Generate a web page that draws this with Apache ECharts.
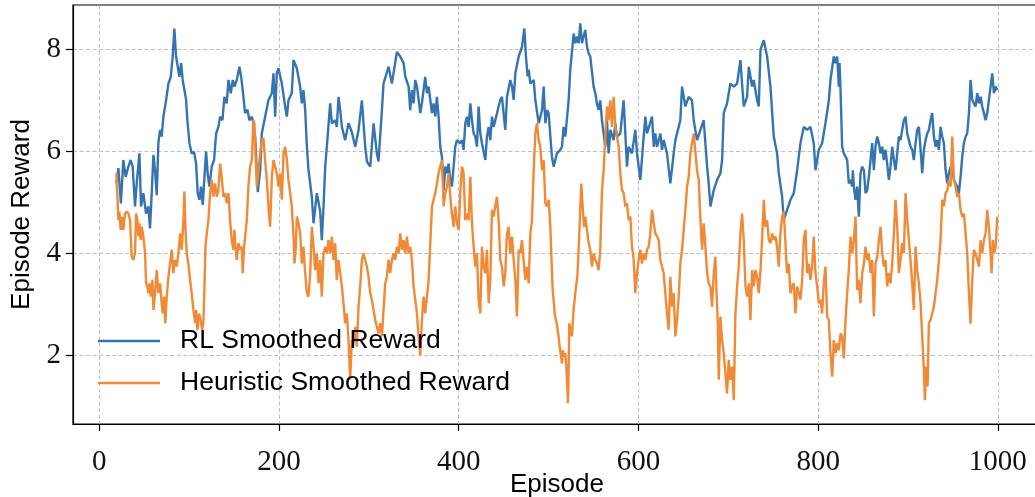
<!DOCTYPE html>
<html>
<head>
<meta charset="utf-8">
<script src="https://cdn.jsdelivr.net/npm/echarts@6/dist/echarts.min.js"></script>
<style>html,body{margin:0;padding:0;background:#fff;}#c{width:1035px;height:497px;}</style>
</head>
<body>
<div id="c"></div>
<script>
const xTicks = [0, 200, 400, 600, 800, 1000];
const yTicks = [2, 4, 6, 8];
const seriesNames = ['RL Smoothed Reward', 'Heuristic Smoothed Reward'];

const rlEpisodes = [19,21.2,24,26.7,29.3,32.3,34.9,37.1,39.7,41.6,44.6,46.4,49,52,54.6,56.4,58.3,60.2,62,63.9,65.7,67.6,69.4,71.3,74.3,76.9,79.5,81.7,83.5,85.4,87.3,89.1,91,92.8,94.7,96.5,98,100.3,102.8,105.4,107.7,109.5,111.4,113.2,115.1,117,118.8,120.7,122.5,125.1,127.7,130,132.5,134.4,137,139.2,141.8,143.7,146.3,148.5,150.4,153,155.9,157.8,159.6,162.2,164.8,167,169.7,171.5,
173.4,176.4,179,180.8,184.5,188.2,192,193.8,195.7,197.5,199.4,203.1,206.8,208.7,210.5,214.2,216.1,219.8,223.5,225.4,227.2,229.1,231,232.8,236.5,238.4,242.1,245.8,247.6,249.5,251.4,253.2,256.9,258.8,262.5,264.3,266.2,268.1,269.9,273.6,277.3,281,284.8,288.5,292.2,295.9,297.8,301.5,305.2,308.9,310.7,314.5,316.3,321.9,325.6,331.2,
334.9,338.6,340.5,344.2,346,347.9,349.7,351.6,353.5,357.2,359,362.7,364.6,366.5,370.2,372,373.9,375.7,377.6,379.4,381.3,383.2,385,386.9,388.7,390.6,392.4,394.3,396.1,398,401.7,403.6,405.4,407.3,409.1,411,412.9,414.7,416.6,418.4,420.3,422.1,424,425.8,429.6,431.4,433.3,435.1,437,438.8,442.5,444.4,446.3,448.1,451.8,453.7,457.4,459.3,461.1,463,466.7,470.4,473,474.8,476.7,477.8,479.7,483.4,485.2,489,492.7,494.5,496.4,498.2,
500,503.7,505.6,507.4,509.3,513,514.9,516.7,518.6,522.3,524.1,527.9,529.7,531.6,533.4,535.3,537.1,540.8,542.7,544.6,546.4,550.1,552,553.8,555.7,557.5,559.4,563.1,565,566.8,568.7,570.5,572.4,574.3,576.1,579.8,583.5,585.4,587.2,589.1,592.8,596.5,598.4,602.1,605.8,607.7,609.5,615.1,617,618.8,620.7,624.4,626.2,628.1,631.8,635.5,639.2,641.1,646.6,648.5,652.2,655.9,659.6,
661.5,665.2,669,672.6,676.4,678.2,680.1,683.8,687.5,691.2,693.1,694.9,698.6,702.3,706.1,709.8,713.5,715.3,717.2,720.9,722.8,726.5,728.3,732,733.9,735.8,739.5,743.2,746.9,750.6,754.3,756.2,759.9,761.7,765.4,769.2,772.9,776.6,780.3,784,787.7,791.4,795.1,797,800.7,804.4,808.1,811.9,813.7,817.4,819.3,
821.2,823,823.8,824.9,826.7,828.6,830.4,832.3,834.1,836,837.9,838.6,839.7,841.6,843.4,845.3,847.1,849,850.9,852.7,854.6,856.4,858.3,860.1,862,863.8,865.7,867.6,869.4,871.3,873.1,875,876.8,878.7,880.5,882.4,884.3,886.1,888,889.8,891.7,893.5,895.4,897.3,899.1,901,902.8,904.7,906.5,908.4,910.2,912.1,914,915.8,917.7,919.5,921.4,923.2,925.1,926.9,928.8,930.7,932.5,934.4,936.2,938.1,939.9,941.8,943.7,945.5,947.4,949.2,951.1,952.9,954.8,956.6,958.5,960.4,962.2,964.1,965.9,967.8,969.6,971.5,973.3,975.2,977.1,978.9,980.8,982.6,984.5,986.3,988.2,990,991.9,993.8,995.6,997.5,999.3];
const rlValues = [5.37,5.67,4.98,5.83,5.5,5.7,5.83,5.7,4.92,5.37,5.96,4.92,5.18,4.78,4.92,4.49,5.18,5.93,5.63,5.14,6.16,6.42,6.29,6.68,7.0,7.33,7.46,7.86,8.41,7.86,7.66,7.46,7.73,7.4,7.4,7.02,6.61,6.16,5.96,5.99,5.76,5.18,5.05,5.31,4.95,5.5,6.0,5.54,5.31,5.7,5.83,6.35,6.48,6.68,6.61,7.07,6.94,7.4,7.14,7.4,7.27,7.4,7.66,7.46,7.2,6.75,6.82,6.61,6.68,6.55,
6.29,5.2,5.63,6.35,6.68,7.0,7.14,7.53,6.68,7.53,7.63,7.33,6.88,6.68,7.0,7.14,7.79,7.63,7.27,6.94,7.2,6.81,6.09,5.63,5.11,4.59,5.18,4.82,4.26,4.91,5.7,6.09,6.94,6.55,6.61,6.48,7.07,6.81,6.48,6.22,6.55,6.38,6.09,6.42,7.0,6.09,5.8,5.7,6.55,5.96,5.8,6.81,7.33,7.66,7.33,7.95,
7.86,7.73,7.47,7.27,6.81,7.2,6.94,7.4,7.27,6.75,6.94,7.46,7.14,7.27,6.75,6.94,6.68,7.07,6.68,6.09,5.89,5.24,5.7,5.57,5.76,5.44,5.31,5.7,6.09,6.22,6.16,6.22,6.03,6.55,6.68,6.48,6.94,6.61,6.35,6.29,6.09,6.88,6.35,6.16,5.83,6.29,6.48,6.22,6.68,6.48,6.74,6.88,7.01,7.07,6.42,7.07,7.4,7.27,7.01,7.53,7.86,8.05,8.41,7.86,7.47,7.6,7.33,7.4,7.01,6.55,6.81,7.27,6.55,6.81,
6.75,5.9,5.7,5.83,5.96,6.03,6.09,6.48,6.29,7.0,7.6,8.31,8.12,8.25,8.12,8.51,8.12,8.38,8.05,7.92,7.86,7.27,7.14,6.94,6.81,7.0,6.61,6.09,6.61,5.96,6.42,6.42,6.22,6.55,6.29,6.35,7.0,6.35,5.7,6.09,5.96,6.42,5.96,5.44,6.29,6.68,6.35,6.68,6.09,6.35,6.09,6.35,6.03,6.22,5.96,5.37,5.96,6.22,6.61,7.27,6.88,7.07,7.0,
6.61,6.22,6.42,6.61,5.7,5.37,4.92,5.24,5.44,5.57,5.83,6.75,6.94,7.33,7.27,7.33,7.79,7.33,6.88,7.07,7.66,7.27,7.4,7.01,6.88,7.99,8.18,7.86,7.27,6.29,5.96,5.57,5.11,4.65,4.85,5.05,5.18,5.63,6.16,6.48,6.42,6.48,6.16,5.63,6.03,6.16,6.55,7.0,7.4,7.86,7.73,
7.86,7.27,7.73,7.2,6.09,5.96,5.9,5.83,5.37,5.44,5.31,5.63,5.31,5.05,5.31,4.72,5.57,5.7,5.63,5.18,5.24,5.5,5.83,6.16,5.63,6.09,6.29,6.16,5.96,6.09,5.83,6.03,5.76,5.44,5.7,6.09,5.83,5.63,5.96,6.29,6.22,6.42,6.61,6.68,6.35,6.22,6.09,6.03,5.83,6.16,6.42,6.48,6.03,5.57,6.03,6.22,6.35,6.42,6.61,6.75,6.29,6.09,6.22,6.03,6.48,6.29,6.16,5.63,5.37,5.57,5.7,5.63,5.44,5.37,5.31,5.18,5.5,5.9,6.16,6.29,6.35,6.75,7.4,7.01,6.94,6.88,7.14,6.94,7.07,6.88,6.75,6.61,6.75,7.01,7.27,7.53,7.14,7.27,7.2];

const heurEpisodes = [19,20.1,21.2,22.3,23.8,25.3,26.7,28.6,30.5,32.3,34.2,36,37.9,39.7,40.9,42.3,43.5,44.6,46.1,47.2,49,50.9,52,53.5,54.6,55.7,57.2,59.1,60.2,62,63.9,65.7,67.6,69.4,70.5,72,73.5,75,76.9,78.7,80.6,82.4,84.3,86.1,88,89.9,91.7,93.6,94.7,95.8,97.3,99.1,101,102.8,104.7,106.6,107.7,109.2,111,112.9,114.3,115.8,117,118.1,119.6,121.4,123.3,125.1,127,128.8,130.7,132.5,134.4,136.2,138.1,140,141.8,143.7,145.5,147.4,149.2,150.4,151.5,153,154.8,156.7,158.5,159.6,161.1,162.6,164.1,165.9,167.8,169.7,171.5,172.6,173.7,
175.3,179,180.8,182.7,184.5,186.4,188.2,190.1,192,193.8,195.7,197.5,199.4,201.2,203.1,205,206.8,208.7,210.5,212.4,214.2,216.1,217.2,218.7,219.8,221.7,223.5,225.4,227.2,229.1,231,232.8,234.7,236.5,238.4,240.2,242.1,244,245.8,247.6,249.5,251.4,253.2,255.1,256.9,258.8,260.6,262.5,264.3,266.2,268.1,269.9,271.8,273.6,275.5,277.3,279.2,281,282.9,284.8,286.6,288.5,290.3,292.2,294,295.9,297.8,299.6,301.5,303.3,305.2,307,308.9,310.7,312.6,314.5,316.3,318.2,320,321.9,323.7,325.6,327.4,329.3,331.2,333,
334.9,336.8,338.6,340.5,342.3,344.2,346,347.9,349.7,351.6,353.5,355.3,357.2,359,360.9,362.7,364.6,366.5,368.3,370.2,372,373.9,375.7,377.6,379.4,381.3,383.2,385,386.9,388.7,390.6,392.4,394.3,396.1,398,399.9,401.7,403.6,405.4,407.3,409.1,411,412.9,414.7,416.6,418.4,420.3,422.1,424,425.8,427.7,429.6,431.4,433.3,435.1,437,438.8,440.7,442.5,444.4,446.3,448.1,450,451.8,453.7,455.5,457.4,459.3,461.1,463,464.8,466.7,468.5,470.4,472.2,474.1,476,477.8,479.7,481.5,483.4,485.2,487.1,488.9,490.8,492.7,494.5,496.4,498.2,500.1,
501.9,503,504.5,505.6,506.7,508.2,509.7,511.1,512.3,513.4,514.9,516,517.1,518.6,519.7,520.8,521.5,522.3,523,524.5,526,527.5,529,530.5,532,533.4,534.9,536.4,537.9,539.4,540.8,542.7,544.6,546.4,548.3,550.1,552,553.8,555.7,557.5,559.4,561.3,563.1,565,566.8,568.7,570.5,572.4,574.3,576.1,578,579.8,581.7,583.5,585.4,587.2,589.1,591,592.8,594.7,596.5,598.4,600.2,602.1,603.9,605.8,607.7,609.5,611.4,613.2,615.1,617,618.8,620.7,622.5,624.4,626.2,628.1,629.9,631.8,633.6,635.5,637.4,639.2,641.1,642.9,644.8,646.6,648.5,650.4,652.2,654.1,655.9,657.8,659.6,661.5,
665.2,667.1,669,670.8,672.6,674.5,676.4,678.2,680.1,681.9,683.8,685.6,686.8,688.2,689.4,691.2,693.1,694.9,696.8,698.6,700.5,702.3,704.2,706.1,707.9,709.8,711.6,713.5,715.3,717.2,719.1,720.9,722.8,724.6,726.5,728.3,730.2,732,733.9,735.8,737.6,739.5,741.3,743.2,745.1,746.9,748.8,750.6,752.5,754.3,756.2,758,759.9,761.7,763.6,765.4,767.3,769.2,771,772.9,774.7,776.6,778.5,780.3,782.2,784,785.9,787.7,789.6,791.4,793.3,795.1,797,798.9,800.7,802.6,804.4,806.3,808.1,810,811.8,813.7,815.6,817.4,819.3,
821.2,823,824.9,826.7,828.6,830.4,832.3,834.1,836,837.9,839.7,841.6,843.4,845.3,847.1,849,850.9,852.7,854.6,856.4,858.3,860.1,862,863.8,865.7,867.6,869.4,871.3,873.1,875,876.8,878.7,880.5,882.4,884.3,886.1,888,889.8,891.7,893.5,895.4,897.3,899.1,901,902.8,904.7,906.5,908.4,910.2,912.1,914,915.8,917.7,918.8,920.3,921.8,923.2,925.1,926.9,928.8,930.7,932.5,934.4,936.2,938.1,939.9,941.8,943.7,945.5,947.4,949.2,951.1,952.9,954.8,956.6,958.5,960.4,962.2,964.1,965.9,967.8,969.6,971.5,973.3,975.2,977.1,978.9,980.8,982.6,984.5,986.3,988.2,990,991.9,993,994.5,996,997.5,999.3];
const heurValues = [5.57,5.11,4.65,4.82,4.46,4.72,4.46,4.78,4.82,4.78,4.65,3.93,3.87,4.0,4.78,4.65,4.33,4.59,4.26,4.52,4.33,4.0,3.41,3.35,3.22,3.41,3.15,3.48,2.89,3.22,3.67,3.22,3.41,3.02,2.82,3.15,2.63,3.15,3.54,3.8,4.07,3.61,3.87,3.74,4.0,4.39,4.07,4.65,5.21,4.52,4.0,3.8,3.48,3.22,2.89,2.63,2.89,2.5,2.82,2.69,2.5,2.63,3.35,4.13,4.39,4.65,5.18,5.44,5.11,5.37,5.11,5.24,5.76,5.5,5.11,5.18,4.98,5.18,4.65,4.26,4.07,4.46,4.13,3.87,4.2,4.07,4.13,3.61,4.13,4.39,4.65,5.31,5.7,5.83,6.61,6.55,5.96,
5.31,5.96,6.22,6.26,5.83,5.44,4.92,4.52,5.5,5.83,5.7,5.57,5.31,5.57,5.05,5.96,6.09,5.83,5.44,5.18,4.92,4.33,3.8,4.13,4.72,4.59,4.39,3.8,4.13,3.61,3.22,3.15,3.61,4.52,4.13,3.67,4.0,3.41,3.87,3.15,4.0,4.13,4.0,4.26,4.0,4.33,3.87,4.2,3.48,3.87,3.61,3.35,3.02,2.63,2.82,2.3,1.52,2.3,2.24,2.56,2.17,2.95,3.35,3.87,4.0,3.87,3.74,3.54,3.22,3.09,2.89,2.69,2.56,2.43,2.63,2.37,2.89,3.41,3.54,3.87,3.61,3.87,4.0,3.87,4.13,4.0,
4.39,4.07,4.26,4.0,4.33,4.0,4.13,3.87,3.35,3.09,2.82,2.37,2.0,2.69,3.15,2.82,3.15,3.48,4.2,4.92,5.05,5.18,5.37,5.57,5.7,5.83,4.92,5.18,5.31,5.57,5.11,4.78,4.52,4.92,4.59,4.46,5.18,5.7,5.57,4.65,4.78,4.65,5.5,4.59,4.13,3.74,4.0,3.09,2.82,4.13,3.74,3.61,4.07,3.02,3.48,4.85,4.72,4.92,5.11,4.65,3.87,3.74,3.35,3.61,4.39,4.52,4.0,4.33,3.87,3.48,2.76,4.07,4.0,4.26,3.87,3.48,3.74,3.41,4.39,4.65,5.63,6.35,6.55,6.22,6.09,5.63,5.83,4.98,4.92,5.05,
4.52,4.0,3.28,3.09,2.82,2.69,2.56,2.37,2.17,2.04,1.84,2.1,1.97,2.04,1.78,1.39,1.06,1.71,2.63,2.5,2.37,2.82,3.09,3.35,3.54,4.07,4.72,5.37,4.92,4.52,4.72,4.46,4.2,4.07,3.74,4.0,3.87,3.8,3.67,4.07,5.24,5.63,6.29,6.88,6.61,7.0,6.48,7.07,6.48,6.29,6.09,5.57,5.24,5.18,4.92,4.98,4.65,4.72,4.13,3.87,3.22,3.61,3.87,4.07,3.8,4.0,3.87,4.07,4.13,4.39,4.85,4.59,4.39,4.33,4.26,3.87,3.74,3.61,3.22,2.82,2.5,3.54,2.95,3.22,2.37,2.69,3.15,3.8,4.07,4.46,4.85,5.31,5.5,5.96,6.16,6.35,
5.63,5.44,4.65,4.07,4.59,4.13,3.61,3.41,3.35,2.95,3.61,3.93,3.28,2.69,1.52,2.76,2.3,2.04,1.65,1.25,1.91,1.52,1.78,1.12,2.82,3.35,3.74,4.39,4.78,4.26,3.35,3.15,3.41,2.69,3.67,3.35,3.67,3.54,3.22,3.67,4.26,5.05,4.52,4.65,4.26,4.2,4.39,4.26,4.33,4.13,3.74,4.39,4.72,4.82,4.2,3.61,3.8,3.22,3.35,3.41,2.82,3.35,3.22,3.09,3.48,4.26,4.46,3.61,3.8,3.48,3.74,4.33,3.61,3.35,3.02,3.09,2.82,3.41,3.74,2.76,2.69,2.04,1.58,2.3,2.04,
2.24,2.1,2.43,2.37,1.94,2.69,3.22,3.67,4.33,4.0,4.26,4.72,3.28,3.48,3.02,3.61,3.8,4.13,3.87,4.0,3.61,3.87,2.76,3.8,3.93,4.26,4.52,4.0,3.74,3.87,3.35,3.61,3.41,3.8,4.39,5.05,4.52,3.61,3.87,4.2,4.0,5.18,4.65,4.26,3.87,3.41,2.89,4.13,3.67,3.41,3.02,2.37,1.71,1.12,1.78,1.39,2.63,2.69,2.82,2.95,3.22,3.48,3.87,4.26,5.05,4.92,5.18,5.24,5.44,5.31,6.29,5.44,5.31,5.11,5.18,4.85,4.72,4.78,4.39,4.0,3.22,2.62,3.48,4.07,4.0,3.87,3.74,4.26,4.0,4.26,4.39,4.85,4.52,4.0,3.61,4.26,4.0,4.13,4.72];

function pairs(xs, ys) { return xs.map((x, i) => [x, ys[i]]); }

const chart = echarts.init(document.getElementById('c'), null, { renderer: 'canvas' });
const sans = '"Liberation Sans", Arial, sans-serif';
const serif = '"Liberation Serif", "DejaVu Serif", serif';
chart.setOption({
  animation: false,
  backgroundColor: '#fff',
  grid: { left: 73, top: 5, right: -6, bottom: 73, containLabel: false, outerBoundsMode: 'none',
          show: true, borderColor: '#000', borderWidth: 1.2, backgroundColor: 'transparent' },
  legend: {
    orient: 'vertical', left: 98, top: 326, padding: 0, itemGap: 12,
    icon: 'rect', itemWidth: 62, itemHeight: 2.4,
    textStyle: { fontFamily: sans, fontSize: 26.5, color: '#000', lineHeight: 30, padding: [0, 0, 0, 15] },
    data: seriesNames
  },
  xAxis: {
    type: 'value', min: -29.3, max: 1048,
    name: 'Episode', nameLocation: 'middle', nameGap: 47, nameMoveOverlap: false,
    nameTextStyle: { fontFamily: sans, fontSize: 26, color: '#000', lineHeight: 28 },
    axisLine: { show: true, onZero: false, lineStyle: { color: '#000', width: 1.2 } },
    axisTick: { show: true, length: 7, customValues: xTicks, lineStyle: { color: '#000', width: 1.2 } },
    axisLabel: { customValues: xTicks, margin: 24, fontFamily: serif, fontSize: 29, color: '#111',
                 formatter: v => String(v) },
    splitLine: { show: true, lineStyle: { color: '#b0b0b0', width: 0.8, type: [4, 2.5] } }
  },
  yAxis: {
    type: 'value', min: 0.653, max: 8.87,
    name: 'Episode Reward', nameLocation: 'middle', nameGap: 38, nameRotate: 90, nameMoveOverlap: false,
    nameTextStyle: { fontFamily: sans, fontSize: 26, color: '#000' },
    axisLine: { show: true, onZero: false, lineStyle: { color: '#000', width: 1.2 } },
    axisTick: { show: true, length: 7, customValues: yTicks, lineStyle: { color: '#000', width: 1.2 } },
    axisLabel: { customValues: yTicks, margin: 12, fontFamily: serif, fontSize: 29, color: '#111',
                 formatter: v => String(v) },
    splitLine: { show: true, lineStyle: { color: '#b0b0b0', width: 0.8, type: [4, 2.5] } }
  },
  series: [
    { name: seriesNames[0], type: 'line', data: pairs(rlEpisodes, rlValues), showSymbol: false, symbol: 'none',
      lineStyle: { color: '#3574b2', width: 2.4 }, itemStyle: { color: '#3574b2' } },
    { name: seriesNames[1], type: 'line', data: pairs(heurEpisodes, heurValues), showSymbol: false, symbol: 'none',
      lineStyle: { color: '#f18a36', width: 2.4 }, itemStyle: { color: '#f18a36' } }
  ]
});
</script>
</body>
</html>
